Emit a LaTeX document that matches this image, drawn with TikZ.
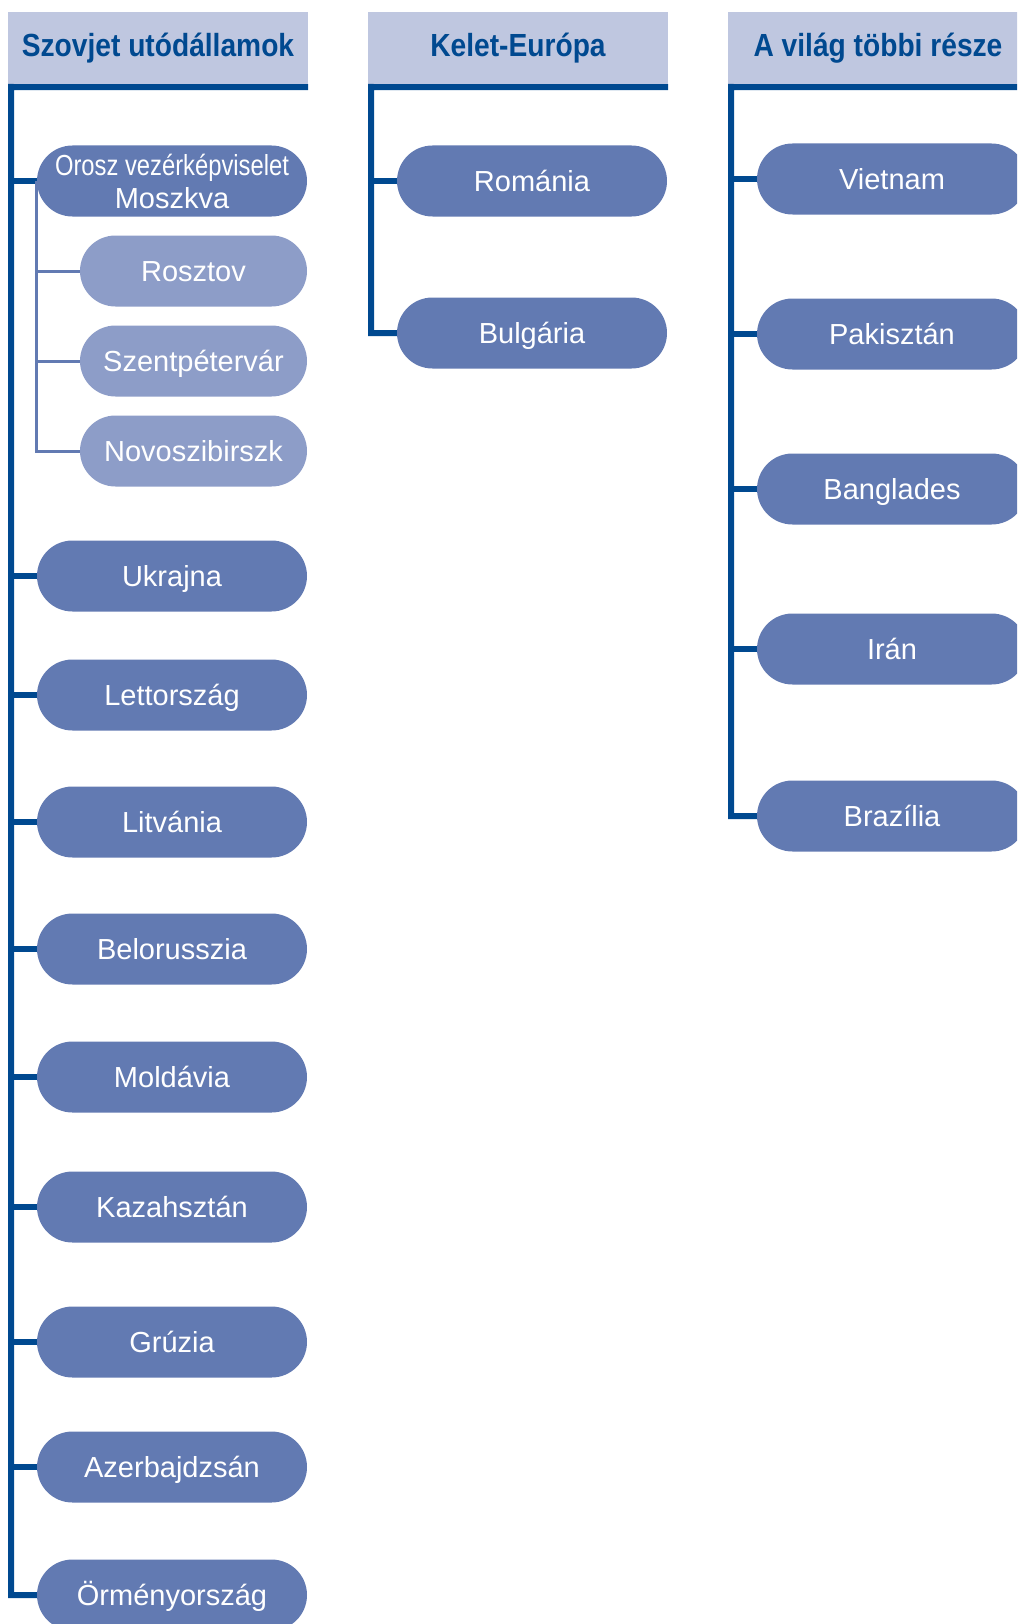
\documentclass[tikz,border=0pt]{standalone}
\usepackage{fontspec}
\setmainfont{Liberation Sans}
\newfontfamily\headfont{Liberation Sans}[FakeStretch=0.88]
\newfontfamily\narrowfont{Liberation Sans}[FakeStretch=0.82]
\usetikzlibrary{shapes.misc}
\definecolor{headfill}{RGB}{191,199,224}
\definecolor{darkline}{RGB}{0,73,144}
\definecolor{itemfill}{RGB}{98,122,178}
\definecolor{subfill}{RGB}{141,157,200}

\begin{document}
\begin{tikzpicture}
    [x=1pt, y=-1pt,
     head/.style={fill=headfill, minimum width=300pt, minimum height=72pt, inner sep=0pt,
       text=darkline, text height=26pt, text depth=8pt,
       font=\headfont\bfseries\fontsize{32}{36}\selectfont},
     pill/.style={rounded rectangle, fill=itemfill, minimum width=270pt, minimum height=71pt,
       inner sep=0pt, text=white},
     item/.style={pill, text height=27pt, text depth=6pt, font=\fontsize{29}{34}\selectfont},
     subitem/.style={item, fill=subfill, minimum width=227pt},
     trunk/.style={draw=darkline, line width=6pt},
     twig/.style={draw=itemfill, line width=3pt}]
  \clip (0,0) rectangle (1017,1624);

  \begin{scope}
  \node[head] (sovhead) at (158,48) {Szovjet utódállamok};
  \coordinate (sovtrunk) at (11,87);
  \node[pill, align=center, font=\fontsize{29}{33}\selectfont] (orosz) at (172,181)
    {{\narrowfont Orosz vezérképviselet}\\Moszkva};
  \node[subitem] (rosztov) at (193.5,271) {Rosztov};
  \node[subitem] (szentpetervar) at (193.5,361) {Szentpétervár};
  \node[subitem] (novoszibirszk) at (193.5,451) {Novoszibirszk};
  \node[item] (ukrajna) at (172,576) {Ukrajna};
  \node[item] (lettorszag) at (172,695) {Lettország};
  \node[item] (litvania) at (172,822) {Litvánia};
  \node[item] (belorusszia) at (172,949) {Belorusszia};
  \node[item] (moldavia) at (172,1077) {Moldávia};
  \node[item] (kazahsztan) at (172,1207) {Kazahsztán};
  \node[item] (gruzia) at (172,1342) {Grúzia};
  \node[item] (azerbajdzsan) at (172,1467) {Azerbajdzsán};
  \node[item] (ormenyorszag) at (172,1595) {Örményország};

  \draw[trunk] ([yshift=-3pt]sovhead.south east) -- (sovtrunk) |- (ormenyorszag.west);
  \foreach \n in {orosz, ukrajna, lettorszag, litvania, belorusszia, moldavia,
                  kazahsztan, gruzia, azerbajdzsan}
    \draw[trunk] (sovtrunk |- \n.west) -- (\n.west);
  \foreach \n in {rosztov, szentpetervar, novoszibirszk}
    \draw[twig] (orosz.west) |- (\n.west);
  \end{scope}

  \begin{scope}[shift={(360,0)}]
  \node[head] (eurhead) at (158,48) {Kelet-Európa};
  \coordinate (eurtrunk) at (11,87);
  \node[item] (romania) at (172,181) {Románia};
  \node[item] (bulgaria) at (172,333) {Bulgária};

  \draw[trunk] ([yshift=-3pt]eurhead.south east) -- (eurtrunk) |- (bulgaria.west);
  \draw[trunk] (eurtrunk |- romania.west) -- (romania.west);
  \end{scope}

  \begin{scope}[shift={(720,0)}]
  \node[head] (wldhead) at (158,48) {A világ többi része};
  \coordinate (wldtrunk) at (11,87);
  \node[item] (vietnam) at (172,179) {Vietnam};
  \node[item] (pakisztan) at (172,334) {Pakisztán};
  \node[item] (banglades) at (172,489) {Banglades};
  \node[item] (iran) at (172,649) {Irán};
  \node[item] (brazilia) at (172,816) {Brazília};

  \draw[trunk] ([yshift=-3pt]wldhead.south east) -- (wldtrunk) |- (brazilia.west);
  \foreach \n in {vietnam, pakisztan, banglades, iran}
    \draw[trunk] (wldtrunk |- \n.west) -- (\n.west);
  \end{scope}
\end{tikzpicture}
\end{document}
